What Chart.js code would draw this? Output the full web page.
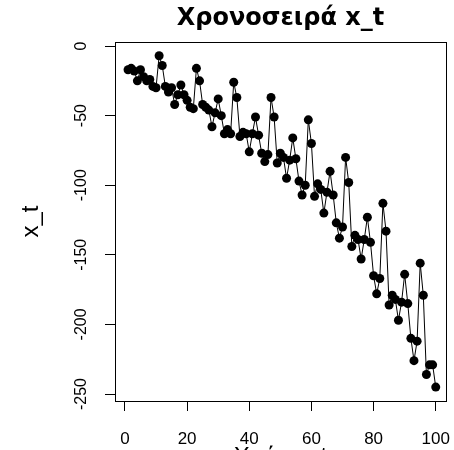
<!DOCTYPE html>
<html><head><meta charset="utf-8">
<script src="https://cdn.jsdelivr.net/npm/chart.js@4.4.0/dist/chart.umd.min.js"></script>
<style>html,body{margin:0;padding:0;overflow:hidden;background:#fff}#wrap{width:454px;height:476px}</style>
</head><body><div id="wrap"><canvas id="c" width="454" height="476"></canvas></div>
<script>
const timeIndex = [1,2,3,4,5,6,7,8,9,10,11,12,13,14,15,16,17,18,19,20,
  21,22,23,24,25,26,27,28,29,30,31,32,33,34,35,36,37,38,39,40,
  41,42,43,44,45,46,47,48,49,50,51,52,53,54,55,56,57,58,59,60,
  61,62,63,64,65,66,67,68,69,70,71,72,73,74,75,76,77,78,79,80,
  81,82,83,84,85,86,87,88,89,90,91,92,93,94,95,96,97,98,99,100];
const seriesValues = [-17,-16,-18,-25,-17,-22,-25,-24,-29,-30,
  -7,-14,-29,-33,-30,-42,-35,-28,-35,-39,
  -44,-45,-16,-25,-42,-44,-46,-58,-48,-38,
  -50,-63,-60,-63,-26,-37,-65,-62,-63,-76,
  -63,-51,-64,-77,-83,-78,-37,-51,-84,-77,
  -80,-95,-82,-66,-81,-97,-107,-100,-53,-70,
  -108,-99,-103,-120,-105,-90,-107,-127,-138,-130,
  -80,-98,-144,-136,-139,-153,-139,-123,-141,-165,
  -178,-167,-113,-133,-186,-179,-182,-197,-184,-164,
  -185,-210,-226,-212,-156,-179,-236,-229,-229,-245];
const xTickValues = [0,20,40,60,80,100];
const yTickValues = [0,-50,-100,-150,-200,-250];
const chartTitle = 'Χρονοσειρά x_t';
const xTitle = 'Χρόνος t';
const yTitle = 'x_t';

const points = timeIndex.map((t,i)=>({x:t,y:seriesValues[i]}));

const frame = {
  id:'frame',
  afterDraw(chart){
    const {ctx, chartArea:a} = chart;
    ctx.save();
    ctx.strokeStyle='#000'; ctx.lineWidth=1;
    ctx.strokeRect(Math.round(a.left)+0.5, Math.round(a.top)+0.5, Math.round(a.right-a.left), Math.round(a.bottom-a.top));
    ctx.restore();
  }
};

new Chart(document.getElementById('c'), {
  type:'line',
  data:{datasets:[{data:points, borderColor:'#000', borderWidth:1, pointRadius:4.5,
    pointBackgroundColor:'#000', pointBorderColor:'#000', pointBorderWidth:0, tension:0, fill:false}]},
  options:{
    responsive:false, animation:false, events:[],
    layout:{padding:{left:0,right:8,top:0,bottom:0}},
    plugins:{
      legend:{display:false}, tooltip:{enabled:false},
      title:{display:true, text:chartTitle, fullSize:false, color:'#000',
        font:{family:'DejaVu Sans', size:24, weight:'bold'}, padding:{top:4.6,bottom:8.6}}
    },
    scales:{
      x:{type:'linear', min:-3.2, max:103.3,
        afterBuildTicks:s=>{s.ticks=xTickValues.map(v=>({value:v}));},
        afterFit:s=>{s.height=75; s.paddingLeft=0; s.paddingRight=0;},
        grid:{display:true, drawOnChartArea:false, tickLength:10, tickColor:'#000', color:'#000'},
        border:{display:true, color:'#000'},
        ticks:{color:'#000', font:{family:'Liberation Sans', size:17}, padding:18, maxRotation:0, autoSkip:false},
        title:{display:true, text:xTitle, color:'#000', font:{family:'Liberation Sans', size:24}, padding:{top:0,bottom:4}}
      },
      y:{type:'linear', min:-255, max:2.9,
        afterBuildTicks:s=>{s.ticks=yTickValues.map(v=>({value:v}));},
        afterFit:s=>{s.width=115; s.paddingTop=0; s.paddingBottom=0;},
        grid:{display:true, drawOnChartArea:false, tickLength:10, tickColor:'#000', color:'#000'},
        border:{display:true, color:'#000'},
        ticks:{color:'#000', font:{family:'Liberation Sans', size:16}, padding:7, minRotation:90, maxRotation:90, crossAlign:'center', autoSkip:false},
        title:{display:true, text:yTitle, color:'#000', font:{family:'Liberation Sans', size:24}, padding:{top:16.6,bottom:0}}
      }
    }
  },
  plugins:[frame]
});
</script>
</body></html>
